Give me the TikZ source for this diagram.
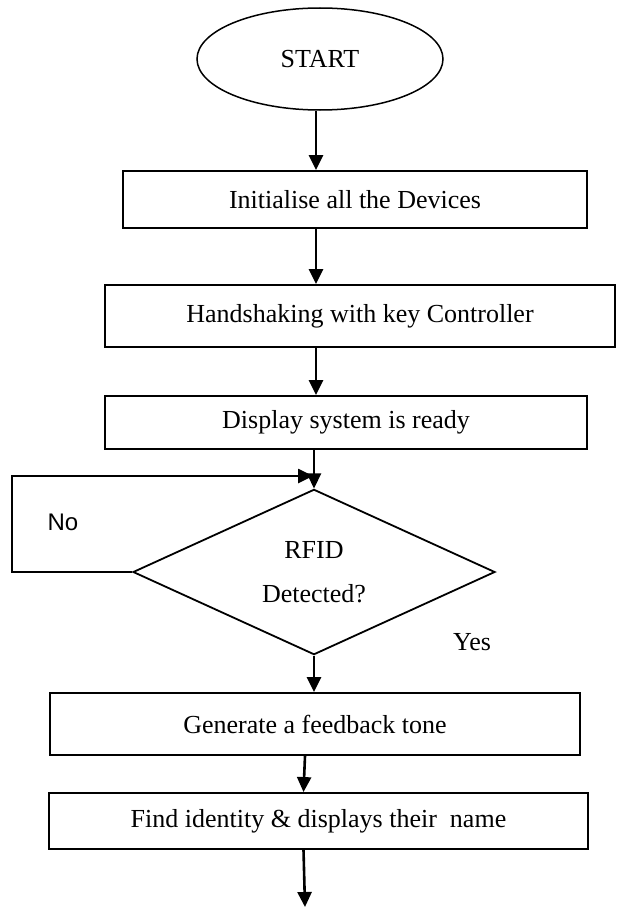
\documentclass[tikz,border=0pt]{standalone}
\usepackage{fontspec}
\setmainfont{Liberation Serif}
\newfontfamily\labelsans{Liberation Sans}
\usetikzlibrary{shapes.geometric,arrows.meta}

\begin{document}
\begin{tikzpicture}[
    x=1pt, y=-1pt,
    >={Triangle[length=15pt,width=14pt]},
    every node/.style={font=\fontsize{26}{30}\selectfont},
    process/.style={draw, rectangle, line width=1.9pt, inner sep=0pt},
    flow/.style={->, line width=2.6pt}
]

    % page frame
    \useasboundingbox (0,0) rectangle (618,907);

    % Coordinates
    \coordinate (axis) at (316,0);    % main flow line
    \coordinate (join) at (313,476);  % where the No loop comes back
    \coordinate (out)  at (305,907);  % bottom end

    % Start
    \node[draw, ellipse, line width=1.5pt, minimum width=246, minimum height=102, inner sep=0pt] (start) at (320,59) {START};

    % Process boxes
    \node[process, minimum width=464, minimum height=57] (init) at (355,199.5) {Initialise all the Devices};
    \node[process, minimum width=510, minimum height=62] (hand) at (360,316) {Handshaking with key Controller};
    \node[process, minimum width=482, minimum height=53] (disp) at (346,422.5) {Display system is ready};

    % Decision
    \node[draw, diamond, line width=1.8pt, minimum width=362, minimum height=159, inner sep=0pt, align=center] (rfid) at (314,572) {RFID\\[14pt]Detected?};
    \node[font=\labelsans\fontsize{24}{28}\selectfont] (no) at (63,522) {No};
    \node (yes) at (472,642) {Yes};

    % Output boxes
    \node[process, minimum width=530, minimum height=62] (tone) at (315,724) {Generate a feedback tone};
    \node[process, minimum width=539, minimum height=56] (name) at (318.5,821) {Find identity \& displays their\ \ name};

    % Arrows
    \draw[flow] (start.south -| axis) -- (init.north -| axis);
    \draw[flow] (init.south -| axis) -- (hand.north -| axis);
    \draw[flow] (hand.south -| axis) -- (disp.north -| axis);
    \draw[flow] (disp.south -| rfid.north) -- (rfid.north);
    \draw[flow] (rfid.west) -- ++(-120,0) |- (join);
    \draw[flow] (rfid.south) -- (tone.north -| rfid.south);
    \draw[flow] ([xshift=-10pt]tone.south) -- ([xshift=-15pt]name.north);
    \draw[flow] ([xshift=-15pt]name.south) -- (out);

\end{tikzpicture}
\end{document}
